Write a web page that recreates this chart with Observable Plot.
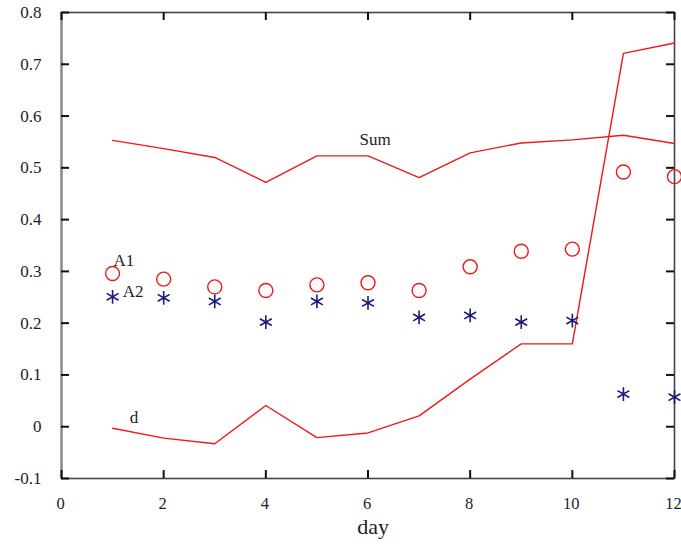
<!DOCTYPE html>
<html><head><meta charset="utf-8">
<script src="https://cdn.jsdelivr.net/npm/d3@7"></script>
<script src="https://cdn.jsdelivr.net/npm/@observablehq/plot@0.6"></script>
<style>body{margin:0;background:#fff}</style>
</head><body><div id="chart"></div>
<script>
const days = [1,2,3,4,5,6,7,8,9,10,11,12];
const sumVals = [0.553,0.537,0.520,0.472,0.523,0.523,0.481,0.529,0.548,0.554,0.563,0.547];
const dVals = [-0.003,-0.022,-0.033,0.041,-0.021,-0.012,0.021,0.092,0.160,0.160,0.721,0.741];
const a1Vals = [0.296,0.285,0.270,0.263,0.274,0.278,0.263,0.309,0.339,0.343,0.492,0.483];
const a2Vals = [0.251,0.249,0.242,0.202,0.242,0.239,0.211,0.215,0.202,0.205,0.063,0.057];
const xTicks = [0,2,4,6,8,10,12];
const xTickLabels = ["0","2","4","6","8","10","12"];
const yTicks = [-0.1,0,0.1,0.2,0.3,0.4,0.5,0.6,0.7,0.8];
const yTickLabels = ["-0.1","0","0.1","0.2","0.3","0.4","0.5","0.6","0.7","0.8"];
const seriesLabels = ["Sum","A1","A2","d"];
const labelX = [6.14,1.22,1.4,1.42];
const labelY = [0.554,0.321,0.262,0.018];
const xTitle = "day";

const rows = (vals) => days.map((x,i)=>({x, y: vals[i]}));
const labels = seriesLabels.map((t,i)=>({t, x: labelX[i], y: labelY[i]}));
const font = "Liberation Serif, Times New Roman, serif";
const xDom = [0, 12], yDom = [-0.1, 0.8];
const W = 681, H = 551, ML = 61, MR = 7, MT = 12, MB = 73;
const tickPx = 8;
const yTickLen = tickPx / (H - MT - MB) * (yDom[1] - yDom[0]);
const xTickLen = tickPx / (W - ML - MR) * (xDom[1] - xDom[0]);
const tickStyle = {stroke: "#111", strokeWidth: 2};

const chart = Plot.plot({
  width: W, height: H,
  marginLeft: ML, marginRight: MR, marginTop: MT, marginBottom: MB,
  style: {fontFamily: font, background: "#fff"},
  x: {domain: xDom, axis: null},
  y: {domain: yDom, axis: null},
  marks: [
    Plot.frame({stroke: "#444", strokeWidth: 1.6}),
    Plot.ruleX([xDom[0]], {stroke: "#888", strokeWidth: 2}),
    Plot.ruleX(xTicks, {x: d => d, y1: yDom[0], y2: yDom[0] + yTickLen, ...tickStyle}),
    Plot.ruleX(xTicks, {x: d => d, y1: yDom[1] - yTickLen, y2: yDom[1], ...tickStyle}),
    Plot.ruleY(yTicks, {y: d => d, x1: xDom[0], x2: xDom[0] + xTickLen, ...tickStyle}),
    Plot.ruleY(yTicks, {y: d => d, x1: xDom[1] - xTickLen, x2: xDom[1], ...tickStyle}),
    Plot.axisX({anchor: "bottom", ticks: xTicks, tickSize: 0, tickPadding: 19, dx: -1, fontSize: 16.5, fill: "#1c1c2c",
      tickFormat: (d) => xTickLabels[xTicks.indexOf(d)], label: null}),
    Plot.axisY({anchor: "left", ticks: yTicks, tickSize: 0, tickPadding: 20, fontSize: 17, fill: "#1c1c2c",
      tickFormat: (d) => yTickLabels[yTicks.findIndex(v => Math.abs(v-d)<1e-9)], label: null}),
    Plot.line(rows(sumVals), {x: "x", y: "y", stroke: "#f01818", strokeWidth: 1.4}),
    Plot.line(rows(dVals), {x: "x", y: "y", stroke: "#f01818", strokeWidth: 1.4}),
    Plot.dot(rows(a1Vals), {x: "x", y: "y", r: 7, stroke: "#f01818", strokeWidth: 1.4, fill: "none"}),
    Plot.dot(rows(a2Vals), {x: "x", y: "y", r: 6.5, symbol: "asterisk", stroke: "#1a1a80", strokeWidth: 1.6}),
    Plot.text(labels, {x: "x", y: "y", text: "t", fontSize: 17, fill: "#1c1c2c"}),
    Plot.text([xTitle], {frameAnchor: "bottom", dy: 55, dx: 5, fontSize: 22, fill: "#1c1c2c"})
  ]
});
document.getElementById("chart").append(chart);
</script>
</body></html>
